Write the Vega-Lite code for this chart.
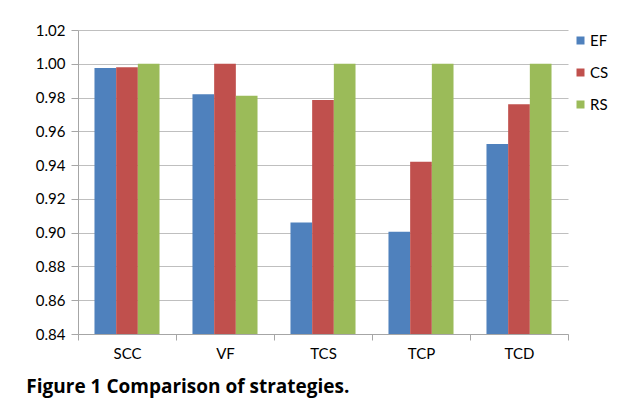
{
  "$schema": "https://vega.github.io/schema/vega-lite/v6.json",
  "width": 490,
  "height": 304,
  "padding": {"left": 26, "top": 23, "right": 5, "bottom": 5},
  "background": "white",
  "title": {
    "text": "Figure 1 Comparison of strategies.",
    "orient": "bottom",
    "anchor": "start",
    "frame": "bounds",
    "offset": 17,
    "dx": -9,
    "font": "Open Sans",
    "fontSize": 19,
    "fontWeight": "bold",
    "color": "#000000"
  },
  "data": {
    "values": [
      {"strategy": "SCC", "series": "EF", "value": 0.9975},
      {"strategy": "SCC", "series": "CS", "value": 0.998},
      {"strategy": "SCC", "series": "RS", "value": 1.0},
      {"strategy": "VF", "series": "EF", "value": 0.982},
      {"strategy": "VF", "series": "CS", "value": 1.0},
      {"strategy": "VF", "series": "RS", "value": 0.981},
      {"strategy": "TCS", "series": "EF", "value": 0.906},
      {"strategy": "TCS", "series": "CS", "value": 0.9785},
      {"strategy": "TCS", "series": "RS", "value": 1.0},
      {"strategy": "TCP", "series": "EF", "value": 0.9005},
      {"strategy": "TCP", "series": "CS", "value": 0.942},
      {"strategy": "TCP", "series": "RS", "value": 1.0},
      {"strategy": "TCD", "series": "EF", "value": 0.9525},
      {"strategy": "TCD", "series": "CS", "value": 0.976},
      {"strategy": "TCD", "series": "RS", "value": 1.0}
    ]
  },
  "mark": {"type": "bar", "clip": true},
  "encoding": {
    "x": {
      "field": "strategy",
      "type": "nominal",
      "sort": ["SCC", "VF", "TCS", "TCP", "TCD"],
      "scale": {"paddingInner": 0, "paddingOuter": 0},
      "axis": {
        "title": null,
        "labelAngle": 0,
        "tickBand": "extent",
        "tickSize": 6,
        "labelPadding": 6,
        "labelFont": "Lato",
        "labelFontSize": 15,
        "labelColor": "#000000",
        "domainColor": "#A6A6A6",
        "tickColor": "#A6A6A6"
      }
    },
    "xOffset": {
      "field": "series",
      "type": "nominal",
      "sort": ["EF", "CS", "RS"],
      "scale": {"paddingInner": 0, "paddingOuter": 0.76}
    },
    "y": {
      "field": "value",
      "type": "quantitative",
      "scale": {"domain": [0.84, 1.02], "zero": false, "nice": false},
      "axis": {
        "title": null,
        "values": [0.84, 0.86, 0.88, 0.9, 0.92, 0.94, 0.96, 0.98, 1.0, 1.02],
        "format": ".2f",
        "tickSize": 7,
        "labelPadding": 6,
        "labelFont": "Lato",
        "labelFontSize": 15,
        "labelColor": "#000000",
        "domainColor": "#A6A6A6",
        "tickColor": "#A6A6A6",
        "gridColor": "#BFBFBF"
      }
    },
    "color": {
      "field": "series",
      "type": "nominal",
      "sort": ["EF", "CS", "RS"],
      "scale": {"domain": ["EF", "CS", "RS"], "range": ["#4F81BD", "#C0504D", "#9BBB59"]},
      "legend": {
        "title": null,
        "orient": "right",
        "offset": 2,
        "symbolType": "square",
        "symbolSize": 64,
        "symbolStrokeWidth": 0,
        "labelFont": "Lato",
        "labelFontSize": 15,
        "labelColor": "#000000",
        "labelOffset": 2,
        "rowPadding": 16,
        "padding": 3
      }
    }
  },
  "config": {
    "view": {"stroke": null}
  }
}
